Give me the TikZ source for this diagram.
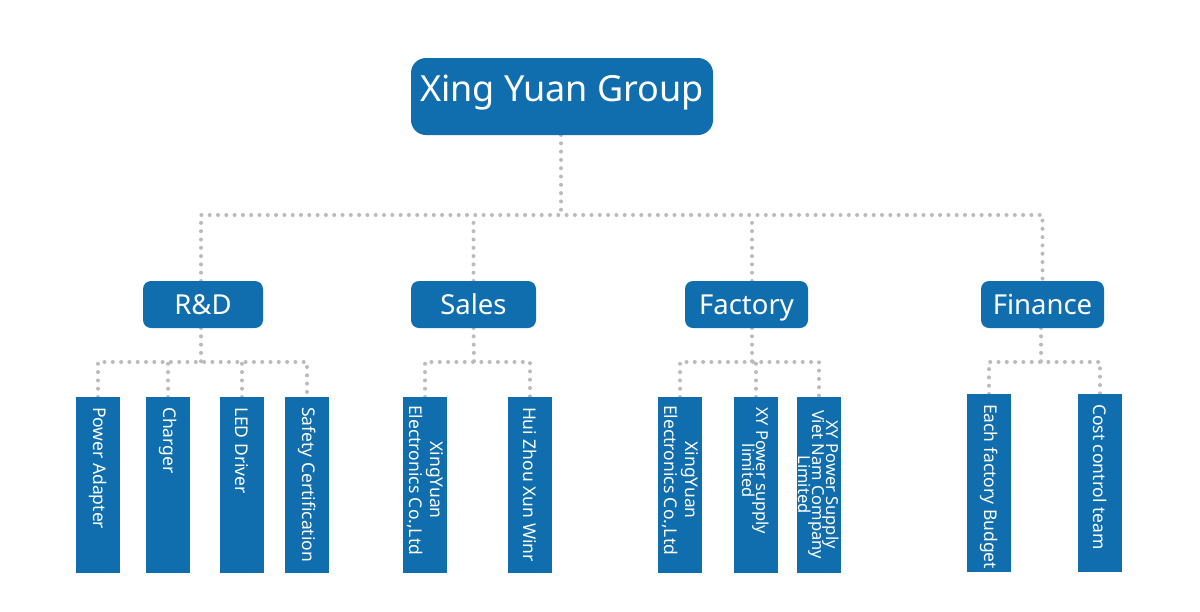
\documentclass[tikz,border=0pt]{standalone}
\usepackage{fontspec}
\setmainfont{Noto Sans}
\usetikzlibrary{positioning, backgrounds}
\definecolor{xyblue}{HTML}{106EAE}
\definecolor{dotgray}{HTML}{BBBBBB}
\newcommand\tightlines{\fontsize{16.5}{14}\selectfont\lineskiplimit=-100pt\relax\lineskip=0pt\relax}
\tikzset{link/.style={draw=dotgray, line width=4pt, line cap=round, dash pattern=on 0pt off 8.3pt}}

\begin{document}
\begin{tikzpicture}[
      x=1pt, y=-1pt,
      every node/.style={inner sep=0pt, outer sep=0pt},
      group/.style={fill=xyblue, rounded corners=15pt, minimum width=302pt, minimum height=77pt,
        text=white, font=\fontsize{36}{40}\selectfont, text height=27pt, text depth=17pt},
      dept/.style={fill=xyblue, rounded corners=8pt, minimum height=47pt, text=white,
        font=\fontsize{27.5}{30}\selectfont, text height=20pt, text depth=0pt},
      leaf/.style={fill=xyblue, minimum width=44pt, minimum height=176pt},
      leaf text/.style={rotate=-90, anchor=west, align=center, text=white, font=\fontsize{17.5}{21}\selectfont},
      tight/.style={font=\tightlines},
  ]
      \useasboundingbox (0,0) rectangle (1200,611);

      % Top: the group
      \node[group] (xy) at (562,96.5) {Xing Yuan Group};

      % Second row: departments
      \node[dept, minimum width=120pt] (rd) at (203,304.5) {R\&D};
      \node[dept, minimum width=125pt] (sales) at (473.5,304.5) {Sales};
      \node[dept, minimum width=123pt] (factory) at (746.5,304.5) {Factory};
      \node[dept, minimum width=123pt] (finance) at (1042.5,304.5) {Finance};

      % Third row: R&D boxes
      \node[leaf] (adapter) at (98,485) {};
      \node[leaf] (charger) at (168,485) {};
      \node[leaf] (led) at (242,485) {};
      \node[leaf] (safety) at (307,485) {};

      % Third row: Sales boxes
      \node[leaf] (xyesales) at (425,485) {};
      \node[leaf] (huizhou) at (530,485) {};

      % Third row: Factory boxes
      \node[leaf] (xyefactory) at (680,485) {};
      \node[leaf] (xypower) at (756,485) {};
      \node[leaf] (xyviet) at (819,485) {};

      % Third row: Finance boxes
      \node[leaf, minimum height=178pt] (budget) at (989,483) {};
      \node[leaf, minimum height=178pt] (cost) at (1100,483) {};

      % Box texts, read top to bottom
      \node[leaf text] (adapter-t) at ([yshift=-10pt]adapter.north) {Power Adapter};
      \node[leaf text] (charger-t) at ([yshift=-10pt]charger.north) {Charger};
      \node[leaf text] (led-t) at ([yshift=-10pt]led.north) {LED Driver};
      \node[leaf text] (safety-t) at ([yshift=-10pt]safety.north) {Safety Certification};
      \node[leaf text] (xyesales-t) at ([yshift=-8pt]xyesales.north) {XingYuan\\Electronics Co.,Ltd};
      \node[leaf text] (huizhou-t) at ([yshift=-10pt]huizhou.north) {Hui Zhou Xun Winr};
      \node[leaf text] (xyefactory-t) at ([yshift=-8pt]xyefactory.north) {XingYuan\\Electronics Co.,Ltd};
      \node[leaf text, tight] (xypower-t) at ([yshift=-10pt]xypower.north) {XY Power supply\\limited};
      \node[leaf text, tight] (xyviet-t) at ([yshift=-13pt]xyviet.north) {XY Power Supply\\Viet Nam Company\\Limited};
      \node[leaf text] (budget-t) at ([yshift=-10pt]budget.north) {Each factory Budget};
      \node[leaf text] (cost-t) at ([yshift=-10pt]cost.north) {Cost control team};

      % Dotted connectors, behind the boxes
      \begin{scope}[on background layer]
        % Group -> departments
        \coordinate (topbus) at (561,215);
        \coordinate (factorybus) at (752,362);
        \draw[link] (xy.south -| topbus) -- (topbus);
        \draw[link] ([xshift=-2pt]rd.north) |- (topbus) -| (finance.north);
        \draw[link] (sales.north) -- (sales.north |- topbus);
        \draw[link] (factory.north -| factorybus) -- (factorybus |- topbus);

        % R&D -> boxes
        \coordinate (rdbus) at (201,362);
        \draw[link] (rd.south -| rdbus) -- (rdbus);
        \draw[link] (adapter.north) |- (rdbus) -| (safety.north);
        \draw[link] (charger.north) -- (charger.north |- rdbus);
        \draw[link] (led.north) -- (led.north |- rdbus);

        % Sales -> boxes
        \coordinate (salesbus) at (474,362);
        \draw[link] (sales.south) -- (salesbus);
        \draw[link] (xyesales.north) |- (salesbus) -| (huizhou.north);

        % Factory -> boxes
        \draw[link] (factory.south -| factorybus) -- (factorybus);
        \draw[link] (xyefactory.north) |- (factorybus) -| (xyviet.north);
        \draw[link] (xypower.north) -- (xypower.north |- factorybus);

        % Finance -> boxes
        \coordinate (financebus) at (1041,362);
        \draw[link] (finance.south -| financebus) -- (financebus);
        \draw[link] (budget.north) |- (financebus) -| (cost.north);
      \end{scope}

\end{tikzpicture}
\end{document}
